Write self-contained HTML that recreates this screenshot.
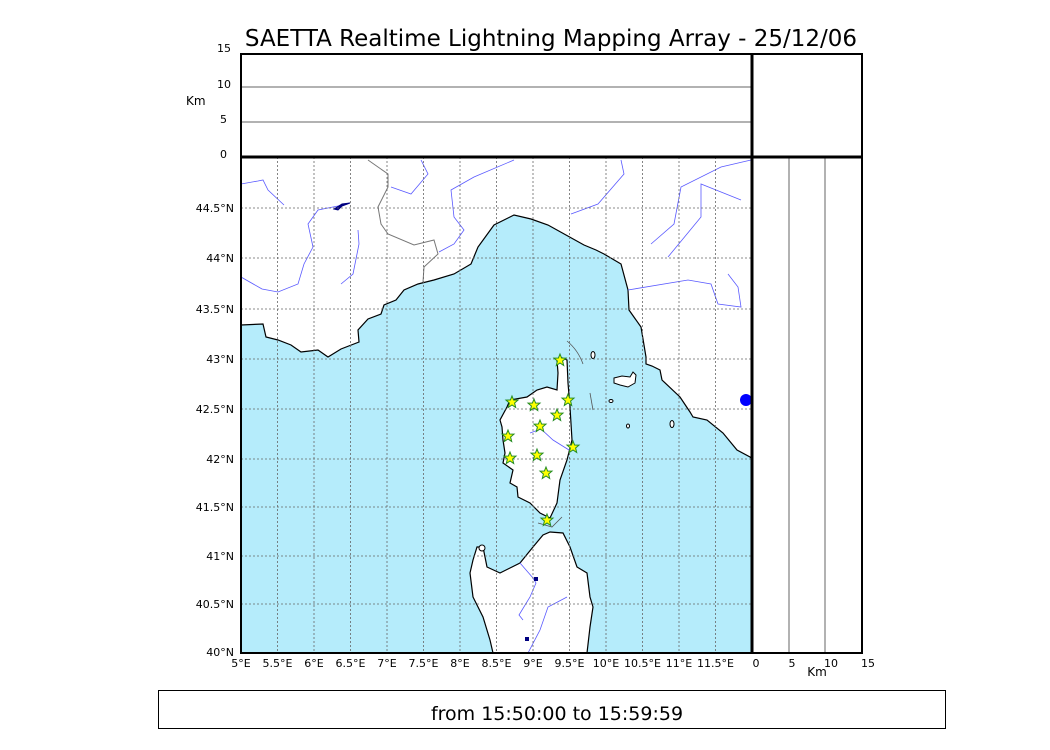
<!DOCTYPE html>
<html><head><meta charset="utf-8"><style>
html,body{margin:0;padding:0;background:#fff;}
svg{display:block;font-family:"DejaVu Sans","Liberation Sans",sans-serif;}
</style></head><body>
<svg width="1050" height="750" viewBox="0 0 1050 750" xmlns="http://www.w3.org/2000/svg">
<rect width="1050" height="750" fill="#fff"/>
<text x="551" y="46" font-size="23" text-anchor="middle">SAETTA Realtime Lightning Mapping Array - 25/12/06</text>

<!-- top panel -->
<line x1="241" y1="87" x2="752" y2="87" stroke="#666" stroke-width="1"/>
<line x1="241" y1="122" x2="752" y2="122" stroke="#666" stroke-width="1"/>
<g font-size="11" text-anchor="end">
<text x="231" y="52">15</text><text x="231" y="88">10</text><text x="227" y="123">5</text><text x="227" y="158">0</text>
</g>
<text x="186" y="105" font-size="12">Km</text>

<!-- map -->
<clipPath id="mc"><rect x="241" y="157" width="511" height="496"/></clipPath>
<g clip-path="url(#mc)">
<rect x="241" y="157" width="511" height="496" fill="#b5ecfb"/>
<path d="M241,157 L241,325 263,324 266,337 278,340 291,345 301,352 318,350 328,357 341,349 359,342 358,330 368,319 381,314 384,305 396,300 404,290 418,284 434,280 454,274 471,264 478,247 494,225 514,215 531,219 548,225 566,235 584,245 596,250 604,254 621,264 628,290 629,310 641,327 646,357 646,364 652,366 660,370 662,380 680,397 690,412 693,417 707,420 723,433 737,450 750,457 752,459 752,157 Z" fill="#fff" stroke="#000" stroke-width="1.2"/>
<path d="M560,357 L567,360 568,383 570,407 572,440 567,460 560,480 557,503 550,518 540,513 530,503 518,497 517,487 510,483 513,470 503,463 505,453 503,440 502,427 500,420 507,407 510,400 527,397 537,390 547,387 557,390 558,373 557,360 Z" fill="#fff" stroke="#000" stroke-width="1.2"/>
<path d="M550,532 L563,533 570,547 577,567 587,573 590,597 593,607 590,627 587,653 493,653 490,640 483,617 473,597 470,573 473,560 477,547 483,547 487,567 500,573 520,563 533,547 543,535 Z" fill="#fff" stroke="#000" stroke-width="1.2"/>
<path d="M614,378 L622,376 630,377 633,372 636,375 635,383 628,387 620,385 614,383 Z" fill="#fff" stroke="#000" stroke-width="1"/>
<ellipse cx="593" cy="355" rx="2" ry="3.5" fill="#fff" stroke="#000"/>
<ellipse cx="611" cy="401" rx="2" ry="1.5" fill="#fff" stroke="#000"/>
<ellipse cx="628" cy="426" rx="1.5" ry="2" fill="#fff" stroke="#000"/>
<ellipse cx="672" cy="424" rx="2" ry="3.5" fill="#fff" stroke="#000"/>
<ellipse cx="482" cy="548" rx="3" ry="3" fill="#fff" stroke="#000"/>
<polyline points="368,160 388,174 388,187 378,207 381,224 388,234 414,245 434,240 438,254 424,267 423,282" fill="none" stroke="#777" stroke-width="1"/>
<g fill="none" stroke="#5a5aff" stroke-width="0.8">
<polyline points="241,184 258,181 263,180 268,190 284,205"/>
<polyline points="348,204 318,210 308,224 313,247 304,264 298,284 278,292 262,289 241,277"/>
<polyline points="358,230 359,244 353,274 341,284"/>
<polyline points="421,160 428,174 411,194 391,187"/>
<polyline points="514,160 474,177 451,190 454,217 464,230 454,244 439,252"/>
<polyline points="621,160 624,174 598,204 571,214"/>
<polyline points="751,160 721,167 681,187 674,224 651,244"/>
<polyline points="741,200 701,184 701,217 668,257"/>
<polyline points="628,290 688,280 711,284 718,304 741,307 738,287 728,274"/>
<polyline points="530,433 541,429 553,440 569,450"/>
<polyline points="520,563 533,578 536,583 530,597 519,615 523,620"/>
<polyline points="567,597 548,607 540,630 528,653"/>
</g>
<g fill="none" stroke="#555" stroke-width="0.8">
<path d="M567,341 Q578,350 583,364"/>
<path d="M590,393 L593,410"/>
<path d="M538,523 L552,527 L562,517"/>
</g>
<ellipse cx="746" cy="400" rx="6" ry="6" fill="#0000ff"/>
<path d="M334,209 L342,204 L350,203 L342,206 L338,210 Z" fill="#000080" stroke="#000080"/>
<rect x="534" y="577" width="4" height="4" fill="#000080"/>
<rect x="525" y="637" width="4" height="4" fill="#000080"/>
<g stroke="#666" stroke-width="0.8" stroke-dasharray="2,2" fill="none">
<path d="M277.5,157V653M314,157V653M350.5,157V653M387,157V653M423.5,157V653M460,157V653M496.5,157V653M533,157V653M569.5,157V653M606,157V653M642.5,157V653M679,157V653M715.5,157V653"/>
<path d="M241,208H752M241,258H752M241,309H752M241,359H752M241,409H752M241,459H752M241,507H752M241,556H752M241,604H752M241,653H752"/>
</g>
<g fill="#ffff00" stroke="#228b22" stroke-width="1">
<path id="st" d="M0,-6 L1.6,-2 6,-1.9 2.6,1 3.7,5.5 0,3 -3.7,5.5 -2.6,1 -6,-1.9 -1.6,-2 Z" transform="translate(560,360)"/>
<use href="#st" x="-48" y="42"/><use href="#st" x="-26" y="45"/><use href="#st" x="8" y="40"/>
<use href="#st" x="-3" y="55"/><use href="#st" x="-20" y="66"/><use href="#st" x="-52" y="76"/>
<use href="#st" x="13" y="87"/><use href="#st" x="-23" y="95"/><use href="#st" x="-50" y="98"/>
<use href="#st" x="-14" y="113"/><use href="#st" x="-13" y="160"/>
</g>
</g>

<line x1="789" y1="157" x2="789" y2="653" stroke="#666"/>
<line x1="825" y1="157" x2="825" y2="653" stroke="#666"/>

<rect x="241" y="54" width="621" height="599" fill="none" stroke="#000" stroke-width="2"/>
<line x1="241" y1="157" x2="862" y2="157" stroke="#000" stroke-width="3"/>
<line x1="752" y1="54" x2="752" y2="653" stroke="#000" stroke-width="3"/>
<rect x="241" y="157" width="511" height="496" fill="none" stroke="#000" stroke-width="1"/>

<g font-size="11" text-anchor="end">
<text x="234" y="212">44.5°N</text><text x="234" y="262">44°N</text><text x="234" y="313">43.5°N</text>
<text x="234" y="363">43°N</text><text x="234" y="413">42.5°N</text><text x="234" y="463">42°N</text>
<text x="234" y="511">41.5°N</text><text x="234" y="560">41°N</text><text x="234" y="608">40.5°N</text>
<text x="234" y="656">40°N</text>
</g>
<g font-size="11" text-anchor="middle">
<text x="241" y="667">5°E</text><text x="277.5" y="667">5.5°E</text><text x="314" y="667">6°E</text>
<text x="350.5" y="667">6.5°E</text><text x="387" y="667">7°E</text><text x="423.5" y="667">7.5°E</text>
<text x="460" y="667">8°E</text><text x="496.5" y="667">8.5°E</text><text x="533" y="667">9°E</text>
<text x="569.5" y="667">9.5°E</text><text x="606" y="667">10°E</text><text x="642.5" y="667">10.5°E</text>
<text x="679" y="667">11°E</text><text x="715.5" y="667">11.5°E</text>
<text x="756" y="667">0</text><text x="792" y="667">5</text><text x="831" y="667">10</text><text x="868" y="667">15</text>
</g>
<text x="817" y="676" font-size="12" text-anchor="middle">Km</text>

<rect x="158.5" y="690.5" width="787" height="38" fill="none" stroke="#000" stroke-width="1"/>
<text x="557" y="720" font-size="19" text-anchor="middle">from 15:50:00 to 15:59:59</text>
</svg>
</body></html>
